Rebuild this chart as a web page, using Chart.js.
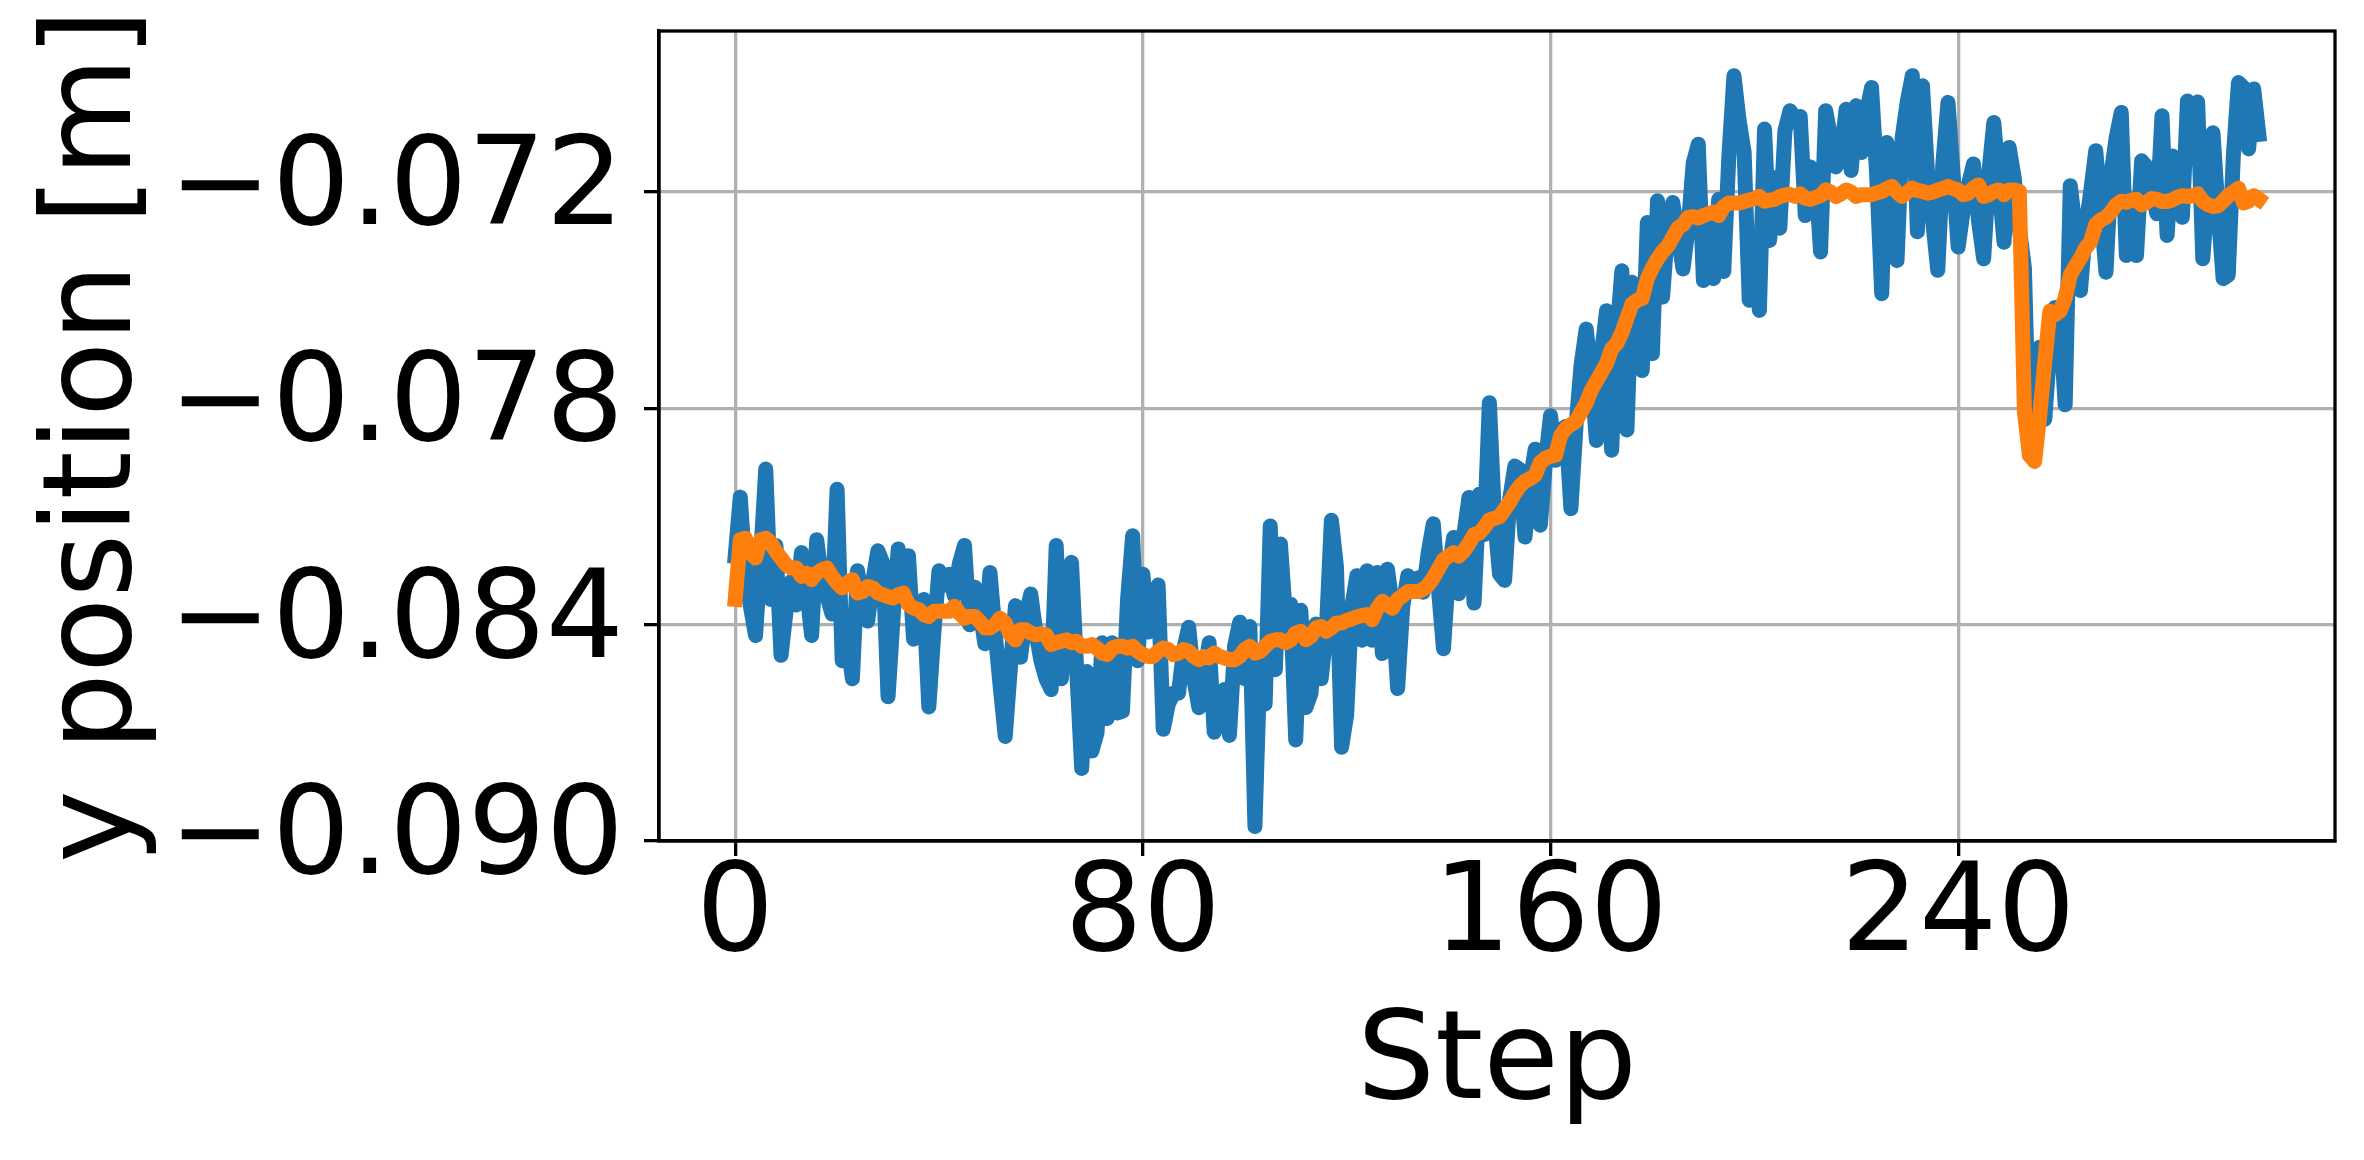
<!DOCTYPE html>
<html>
<head>
<meta charset="utf-8">
<title>y position</title>
<script src="https://cdn.jsdelivr.net/npm/chart.js@4.4.1/dist/chart.umd.min.js"></script>
<style>
  html, body { margin: 0; padding: 0; background: #fff; }
  #wrap { width: 2364px; height: 1160px; }
</style>
</head>
<body>
<div id="wrap"><canvas id="posChart" width="2364" height="1160"></canvas></div>
<script>
// step index of every sample
const steps = Array.from({ length: 300 }, (_, i) => i);

// raw measured y position [m]
const yRaw = [
  -0.08210, -0.08046, -0.08260, -0.08350, -0.08430, -0.08210, -0.07968, -0.08330, -0.08180, -0.08485,
  -0.08360, -0.08280, -0.08345, -0.08200, -0.08300, -0.08430, -0.08164, -0.08275, -0.08320, -0.08370,
  -0.08024, -0.08500, -0.08440, -0.08550, -0.08250, -0.08330, -0.08390, -0.08280, -0.08195, -0.08230,
  -0.08600, -0.08377, -0.08190, -0.08284, -0.08209, -0.08440, -0.08430, -0.08330, -0.08628, -0.08420,
  -0.08250, -0.08290, -0.08260, -0.08320, -0.08230, -0.08180, -0.08400, -0.08296, -0.08360, -0.08453,
  -0.08255, -0.08420, -0.08570, -0.08710, -0.08520, -0.08347, -0.08490, -0.08380, -0.08315, -0.08420,
  -0.08500, -0.08550, -0.08580, -0.08180, -0.08550, -0.08380, -0.08227, -0.08520, -0.08799, -0.08530,
  -0.08750, -0.08700, -0.08450, -0.08660, -0.08450, -0.08645, -0.08640, -0.08330, -0.08153, -0.08500,
  -0.08260, -0.08420, -0.08350, -0.08290, -0.08690, -0.08620, -0.08590, -0.08590, -0.08470, -0.08407,
  -0.08550, -0.08630, -0.08550, -0.08450, -0.08698, -0.08630, -0.08580, -0.08707, -0.08460, -0.08393,
  -0.08550, -0.08405, -0.08960, -0.08500, -0.08620, -0.08126, -0.08525, -0.08176, -0.08380, -0.08343,
  -0.08720, -0.08360, -0.08630, -0.08590, -0.08398, -0.08550, -0.08420, -0.08110, -0.08240, -0.08740,
  -0.08650, -0.08350, -0.08264, -0.08443, -0.08250, -0.08443, -0.08255, -0.08480, -0.08246, -0.08350,
  -0.08577, -0.08350, -0.08264, -0.08290, -0.08270, -0.08310, -0.08200, -0.08120, -0.08300, -0.08467,
  -0.08250, -0.08158, -0.08314, -0.08150, -0.08047, -0.08340, -0.08038, -0.08150, -0.07784, -0.08100,
  -0.08260, -0.08277, -0.08050, -0.07960, -0.07970, -0.08157, -0.08000, -0.07913, -0.08124, -0.07950,
  -0.07820, -0.07944, -0.07860, -0.07850, -0.08078, -0.07850, -0.07680, -0.07580, -0.07700, -0.07889,
  -0.07650, -0.07529, -0.07916, -0.07600, -0.07418, -0.07860, -0.07450, -0.07560, -0.07695, -0.07284,
  -0.07648, -0.07224, -0.07491, -0.07300, -0.07229, -0.07320, -0.07413, -0.07300, -0.07120, -0.07067,
  -0.07445, -0.07300, -0.07440, -0.07220, -0.07420, -0.07100, -0.06877, -0.07000, -0.07090, -0.07500,
  -0.07400, -0.07528, -0.07025, -0.07334, -0.07160, -0.07300, -0.07030, -0.06974, -0.07000, -0.06990,
  -0.07265, -0.07130, -0.07150, -0.07366, -0.06974, -0.07050, -0.07130, -0.07100, -0.06970, -0.07140,
  -0.06960, -0.07090, -0.06980, -0.06910, -0.07150, -0.07482, -0.07062, -0.07200, -0.07390, -0.07050,
  -0.06950, -0.06877, -0.07310, -0.06905, -0.07150, -0.07280, -0.07417, -0.07120, -0.06951, -0.07150,
  -0.07352, -0.07250, -0.07180, -0.07122, -0.07280, -0.07385, -0.07150, -0.07007, -0.07180, -0.07339,
  -0.07076, -0.07160, -0.07300, -0.07410, -0.07930, -0.07920, -0.07630, -0.07830, -0.07630, -0.07520,
  -0.07560, -0.07790, -0.07182, -0.07300, -0.07473, -0.07300, -0.07200, -0.07085, -0.07250, -0.07422,
  -0.07150, -0.07050, -0.06979, -0.07376, -0.07250, -0.07376, -0.07113, -0.07130, -0.07200, -0.07260,
  -0.06988, -0.07320, -0.07100, -0.07150, -0.07270, -0.06947, -0.06960, -0.06950, -0.07385, -0.07200,
  -0.07035, -0.07250, -0.07440, -0.07430, -0.07100, -0.06896, -0.06910, -0.07080, -0.06914, -0.07040
];

// filtered y position [m]
const yFiltered = [
  -0.08330, -0.08164, -0.08160, -0.08200, -0.08215, -0.08164, -0.08160, -0.08173, -0.08197, -0.08215,
  -0.08234, -0.08243, -0.08243, -0.08266, -0.08257, -0.08275, -0.08257, -0.08248, -0.08243, -0.08266,
  -0.08284, -0.08298, -0.08284, -0.08275, -0.08312, -0.08308, -0.08294, -0.08298, -0.08312, -0.08317,
  -0.08322, -0.08326, -0.08317, -0.08312, -0.08344, -0.08354, -0.08358, -0.08372, -0.08377, -0.08363,
  -0.08363, -0.08363, -0.08363, -0.08349, -0.08368, -0.08382, -0.08377, -0.08377, -0.08391, -0.08409,
  -0.08409, -0.08400, -0.08382, -0.08395, -0.08428, -0.08442, -0.08414, -0.08414, -0.08423, -0.08428,
  -0.08425, -0.08428, -0.08455, -0.08450, -0.08446, -0.08442, -0.08450, -0.08446, -0.08460, -0.08460,
  -0.08455, -0.08465, -0.08479, -0.08483, -0.08465, -0.08460, -0.08460, -0.08465, -0.08460, -0.08474,
  -0.08483, -0.08488, -0.08488, -0.08474, -0.08465, -0.08469, -0.08483, -0.08479, -0.08469, -0.08474,
  -0.08488, -0.08497, -0.08488, -0.08492, -0.08479, -0.08488, -0.08492, -0.08497, -0.08497, -0.08488,
  -0.08469, -0.08460, -0.08479, -0.08474, -0.08460, -0.08446, -0.08442, -0.08442, -0.08450, -0.08442,
  -0.08423, -0.08418, -0.08442, -0.08432, -0.08409, -0.08405, -0.08418, -0.08409, -0.08395, -0.08395,
  -0.08388, -0.08384, -0.08378, -0.08375, -0.08372, -0.08386, -0.08355, -0.08335, -0.08345, -0.08354,
  -0.08330, -0.08320, -0.08308, -0.08308, -0.08308, -0.08302, -0.08290, -0.08270, -0.08245, -0.08220,
  -0.08210, -0.08200, -0.08210, -0.08195, -0.08175, -0.08150, -0.08146, -0.08130, -0.08110, -0.08105,
  -0.08100, -0.08080, -0.08060, -0.08035, -0.08015, -0.08002, -0.07995, -0.07985, -0.07950, -0.07938,
  -0.07933, -0.07930, -0.07875, -0.07855, -0.07845, -0.07836, -0.07810, -0.07785, -0.07750, -0.07725,
  -0.07700, -0.07675, -0.07635, -0.07620, -0.07590, -0.07550, -0.07510, -0.07500, -0.07495, -0.07440,
  -0.07410, -0.07385, -0.07365, -0.07350, -0.07325, -0.07300, -0.07290, -0.07270, -0.07268, -0.07272,
  -0.07265, -0.07260, -0.07255, -0.07265, -0.07240, -0.07230, -0.07230, -0.07230, -0.07226, -0.07222,
  -0.07218, -0.07212, -0.07225, -0.07222, -0.07220, -0.07212, -0.07208, -0.07206, -0.07212, -0.07205,
  -0.07217, -0.07220, -0.07215, -0.07210, -0.07194, -0.07200, -0.07212, -0.07205, -0.07194, -0.07200,
  -0.07212, -0.07207, -0.07207, -0.07207, -0.07202, -0.07198, -0.07190, -0.07184, -0.07200, -0.07212,
  -0.07200, -0.07189, -0.07195, -0.07198, -0.07203, -0.07200, -0.07194, -0.07190, -0.07184, -0.07190,
  -0.07194, -0.07207, -0.07203, -0.07189, -0.07180, -0.07212, -0.07207, -0.07198, -0.07194, -0.07207,
  -0.07194, -0.07194, -0.07198, -0.07810, -0.07930, -0.07947, -0.07820, -0.07670, -0.07530, -0.07540,
  -0.07530, -0.07494, -0.07430, -0.07406, -0.07383, -0.07355, -0.07337, -0.07290, -0.07277, -0.07270,
  -0.07255, -0.07235, -0.07225, -0.07228, -0.07222, -0.07220, -0.07235, -0.07228, -0.07218, -0.07220,
  -0.07226, -0.07226, -0.07222, -0.07214, -0.07210, -0.07212, -0.07210, -0.07205, -0.07225, -0.07235,
  -0.07240, -0.07238, -0.07225, -0.07210, -0.07200, -0.07189, -0.07230, -0.07225, -0.07210, -0.07220
];

const xTicks = [0, 80, 160, 240];
const yTicks = [-0.090, -0.084, -0.078, -0.072];

Chart.defaults.font.family = "'DejaVu Sans', sans-serif";
Chart.defaults.color = '#000';

// matplotlib style box round the plot area
const frameBox = {
    id: 'frameBox',
    afterDraw(chart) {
        const { ctx, chartArea: a } = chart;
        ctx.save();
        ctx.strokeStyle = '#000';
        ctx.lineWidth = 3.3;
        ctx.strokeRect(a.left, a.top, a.right - a.left, a.bottom - a.top);
        ctx.restore();
    }
};

// drop the extra room chart.js keeps for edge labels
function noEdgePadding(scale) {
    scale.paddingLeft = 0;
    scale.paddingRight = 0;
    scale.paddingTop = 0;
    scale.paddingBottom = 0;
}

const gridOpts = {
    color: '#b0b0b0',
    lineWidth: 3.3,
    tickColor: '#000',
    tickWidth: 3.3,
    tickLength: 15
};

const ctx = document.getElementById('posChart').getContext('2d');

new Chart(ctx, {
    type: 'line',
    data: {
        datasets: [
            {
                label: 'filtered',
                data: steps.map((s, i) => ({ x: s, y: yFiltered[i] })),
                borderColor: '#ff7f0e',
                borderWidth: 15,
                borderJoinStyle: 'round',
                borderCapStyle: 'square',
                pointRadius: 0,
                tension: 0,
                fill: false,
                order: 0
            },
            {
                label: 'raw',
                data: steps.map((s, i) => ({ x: s, y: yRaw[i] })),
                borderColor: '#1f77b4',
                borderWidth: 15,
                borderJoinStyle: 'round',
                borderCapStyle: 'square',
                pointRadius: 0,
                tension: 0,
                fill: false,
                order: 1
            }
        ]
    },
    options: {
        responsive: false,
        animation: false,
        devicePixelRatio: 1,
        layout: { padding: { top: 31, right: 29, bottom: 0, left: 0 } },
        plugins: {
            legend: { display: false },
            tooltip: { enabled: false }
        },
        scales: {
            x: {
                type: 'linear',
                min: -14.95,
                max: 313.95,
                afterBuildTicks: (scale) => {
                    scale.ticks = xTicks.map(v => ({ value: v }));
                },
                afterFit: (scale) => {
                    scale.height = 319;
                    noEdgePadding(scale);
                },
                grid: gridOpts,
                border: { color: '#000', width: 3.3 },
                ticks: {
                    color: '#000',
                    font: { size: 123 },
                    padding: -12,
                    maxRotation: 0,
                    autoSkip: false,
                    callback: (v) => String(v)
                },
                title: {
                    display: true,
                    text: 'Step',
                    color: '#000',
                    font: { size: 123 },
                    padding: { top: 0, bottom: 20 }
                }
            },
            y: {
                type: 'linear',
                min: -0.0900,
                max: -0.06753,
                afterBuildTicks: (scale) => {
                    scale.ticks = yTicks.map(v => ({ value: v }));
                },
                afterFit: (scale) => {
                    scale.width = 659;
                    noEdgePadding(scale);
                },
                grid: gridOpts,
                border: { color: '#000', width: 3.3 },
                ticks: {
                    color: '#000',
                    font: { size: 123 },
                    padding: 20,
                    autoSkip: false,
                    callback: (v) => v.toFixed(3).replace('-', '\u2212')
                },
                title: {
                    display: true,
                    text: 'y position [m]',
                    color: '#000',
                    font: { size: 123 },
                    padding: { top: 24, bottom: 0 }
                }
            }
        }
    },
    plugins: [frameBox]
});
</script>
</body>
</html>
